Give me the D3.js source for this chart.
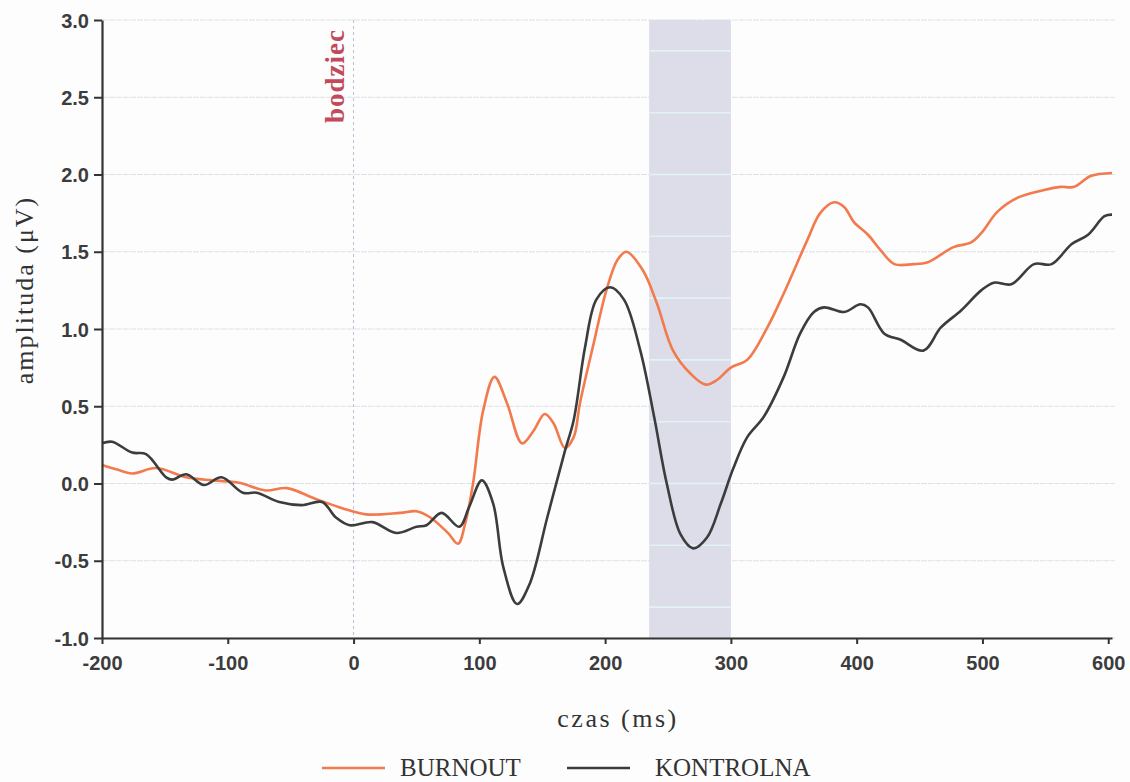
<!DOCTYPE html>
<html>
<head>
<meta charset="utf-8">
<script src="https://cdn.jsdelivr.net/npm/d3@7"></script>
<style>
    body { margin: 0; background: #fdfdfd; }
    .tick text { font-family: "Liberation Sans", Arial, sans-serif; font-weight: bold; font-size: 20px; fill: #3c3c3c; }
    .serif { font-family: "Liberation Serif", "Times New Roman", serif; fill: #333; }
</style>
</head>
<body>
<div id="chart"></div>
<script>
// time points (ms) and amplitudes (uV)
const czasBurnout = [-200, -188, -176, -157, -133, -112, -91, -70, -53, -30, -9, 10, 37, 50, 61, 75, 83, 89, 95, 103,
    112, 122, 134, 143, 152, 159, 168, 175, 180, 191, 201, 210, 217, 230, 241, 254, 268, 280, 289, 300,
    313, 329, 342, 361, 371, 382, 390, 398, 409, 419, 430, 445, 456, 477, 491, 499, 512, 528, 549, 562,
    573, 586, 603];
const burnout = [0.12, 0.09, 0.065, 0.10, 0.04, 0.02, 0.005, -0.045, -0.03, -0.10, -0.16, -0.20, -0.19, -0.18, -0.22, -0.32, -0.39, -0.25, 0.0, 0.47,
    0.69, 0.52, 0.26, 0.34, 0.45, 0.39, 0.23, 0.30, 0.52, 0.91, 1.25, 1.45, 1.50, 1.38, 1.17, 0.86, 0.71, 0.64, 0.67, 0.75,
    0.80, 1.01, 1.23, 1.58, 1.75, 1.82, 1.79, 1.69, 1.61, 1.51, 1.42, 1.42, 1.43, 1.53, 1.56, 1.62, 1.76, 1.85, 1.90, 1.92,
    1.92, 1.99, 2.01];

const czasKontrolna = [-200, -192, -176, -165, -149, -144, -133, -119, -105, -88, -77, -59, -41, -25, -14, -3, 15, 34, 50, 58,
    70, 84, 92, 102, 111, 119, 130, 140, 154, 168, 175, 184, 193, 204, 215, 228, 239, 249, 260, 270,
    281, 292, 302, 313, 326, 342, 355, 366, 374, 390, 403, 409, 422, 435, 453, 467, 483, 499, 509, 523,
    541, 555, 571, 584, 597, 603];
const kontrolna = [0.26, 0.27, 0.20, 0.19, 0.04, 0.025, 0.06, -0.01, 0.04, -0.06, -0.06, -0.12, -0.14, -0.12, -0.22, -0.27, -0.25, -0.32, -0.28, -0.27,
    -0.19, -0.28, -0.15, 0.02, -0.13, -0.54, -0.78, -0.65, -0.22, 0.21, 0.41, 0.88, 1.19, 1.27, 1.19, 0.86, 0.43, 0.0, -0.33, -0.42,
    -0.35, -0.13, 0.10, 0.30, 0.43, 0.69, 0.97, 1.11, 1.14, 1.11, 1.16, 1.14, 0.97, 0.93, 0.86, 1.01, 1.12, 1.25, 1.30, 1.29,
    1.42, 1.42, 1.55, 1.61, 1.73, 1.74];

const xTicks = [-200, -100, 0, 100, 200, 300, 400, 500, 600];
const yTicks = [-1.0, -0.5, 0.0, 0.5, 1.0, 1.5, 2.0, 2.5, 3.0];
const okno = [235, 300];          // shaded time window
const bodziec = 0;                // stimulus onset
const seriesNames = ["BURNOUT", "KONTROLNA"];
const seriesColors = ["#f27a4c", "#3b3d3d"];

const W = 1130, H = 782;
const mLeft = 102, mTop = 20, plotW = 1010, plotH = 618;

const svg = d3.select("#chart").append("svg")
    .attr("width", W)
    .attr("height", H);

const x = d3.scaleLinear().domain([-200, 603]).range([mLeft, mLeft + plotW]);
const y = d3.scaleLinear().domain([-1, 3]).range([mTop + plotH, mTop]);

// grid lines
svg.append("g")
    .selectAll("line")
    .data(yTicks)
    .join("line")
    .attr("x1", mLeft)
    .attr("x2", mLeft + plotW + 3)
    .attr("y1", d => y(d))
    .attr("y2", d => y(d))
    .attr("stroke", "#dde1ea")
    .attr("stroke-width", 1.2)
    .attr("stroke-dasharray", "6,1");

// shaded window
svg.append("rect")
    .attr("x", x(okno[0]))
    .attr("y", mTop)
    .attr("width", x(okno[1]) - x(okno[0]))
    .attr("height", plotH)
    .attr("fill", "#dcdde9");

// light stripes inside the window
svg.append("g")
    .selectAll("line")
    .data(d3.range(-0.8, 3.0, 0.4))
    .join("line")
    .attr("x1", x(okno[0]))
    .attr("x2", x(okno[1]))
    .attr("y1", d => y(d))
    .attr("y2", d => y(d))
    .attr("stroke", "#e4f2f0")
    .attr("stroke-width", 1.6);

// stimulus line
svg.append("line")
    .attr("x1", x(bodziec))
    .attr("x2", x(bodziec))
    .attr("y1", mTop)
    .attr("y2", mTop + plotH)
    .attr("stroke", "#b9c0d6")
    .attr("stroke-width", 1)
    .attr("stroke-dasharray", "3,3");

svg.append("text")
    .attr("class", "serif")
    .attr("transform", "translate(" + (x(bodziec) - 10) + "," + 123 + ") rotate(-90)")
    .attr("font-size", "27px")
    .attr("font-weight", "bold")
    .attr("letter-spacing", "1px")
    .style("fill", "#c24a5b")
    .text("bodziec");

// lines
const line = d3.line()
    .x(d => x(d[0]))
    .y(d => y(d[1]))
    .curve(d3.curveCatmullRom.alpha(0.5));

const serie = [
    d3.zip(czasBurnout, burnout),
    d3.zip(czasKontrolna, kontrolna)
];

svg.append("g")
    .selectAll("path")
    .data(serie)
    .join("path")
    .attr("d", line)
    .attr("fill", "none")
    .attr("stroke", (d, i) => seriesColors[i])
    .attr("stroke-width", 2.6)
    .attr("stroke-linejoin", "round");

// axes (plain hyphen for negatives, as in the original)
const xAxis = svg.append("g")
    .attr("transform", "translate(0," + (mTop + plotH) + ")")
    .call(d3.axisBottom(x).tickValues(xTicks).tickFormat(d => String(d))
        .tickSize(6).tickPadding(12).tickSizeOuter(0));

const yAxis = svg.append("g")
    .attr("transform", "translate(" + mLeft + ",0)")
    .call(d3.axisLeft(y).tickValues(yTicks).tickFormat(d => d.toFixed(1))
        .tickSize(8).tickPadding(5).tickSizeOuter(0));

[xAxis, yAxis].forEach(a => {
    a.select(".domain").attr("stroke", "#333").attr("stroke-width", 2.2);
    a.selectAll(".tick line").attr("stroke", "#333").attr("stroke-width", 2);
});
yAxis.selectAll(".tick text").attr("dy", "0.36em");

// axis labels
svg.append("text")
    .attr("class", "serif")
    .attr("transform", "translate(33,290) rotate(-90)")
    .attr("text-anchor", "middle")
    .attr("font-size", "26px")
    .attr("letter-spacing", "2px")
    .text("amplituda (\u03bcV)");

svg.append("text")
    .attr("class", "serif")
    .attr("x", 618)
    .attr("y", 727)
    .attr("text-anchor", "middle")
    .attr("font-size", "26px")
    .attr("letter-spacing", "2.5px")
    .text("czas (ms)");

// legend
const legendX = [322, 567];
const legend = svg.append("g")
    .selectAll("g")
    .data(seriesNames)
    .join("g")
    .attr("transform", (d, i) => "translate(" + legendX[i] + ",768)");

legend.append("line")
    .attr("x1", 0)
    .attr("x2", 63)
    .attr("stroke", (d, i) => seriesColors[i])
    .attr("stroke-width", 2.5);

legend.append("text")
    .attr("class", "serif")
    .attr("x", (d, i) => i === 0 ? 78 : 88)
    .attr("y", 8)
    .attr("font-size", "25px")
    .text(d => d);
</script>
</body>
</html>
